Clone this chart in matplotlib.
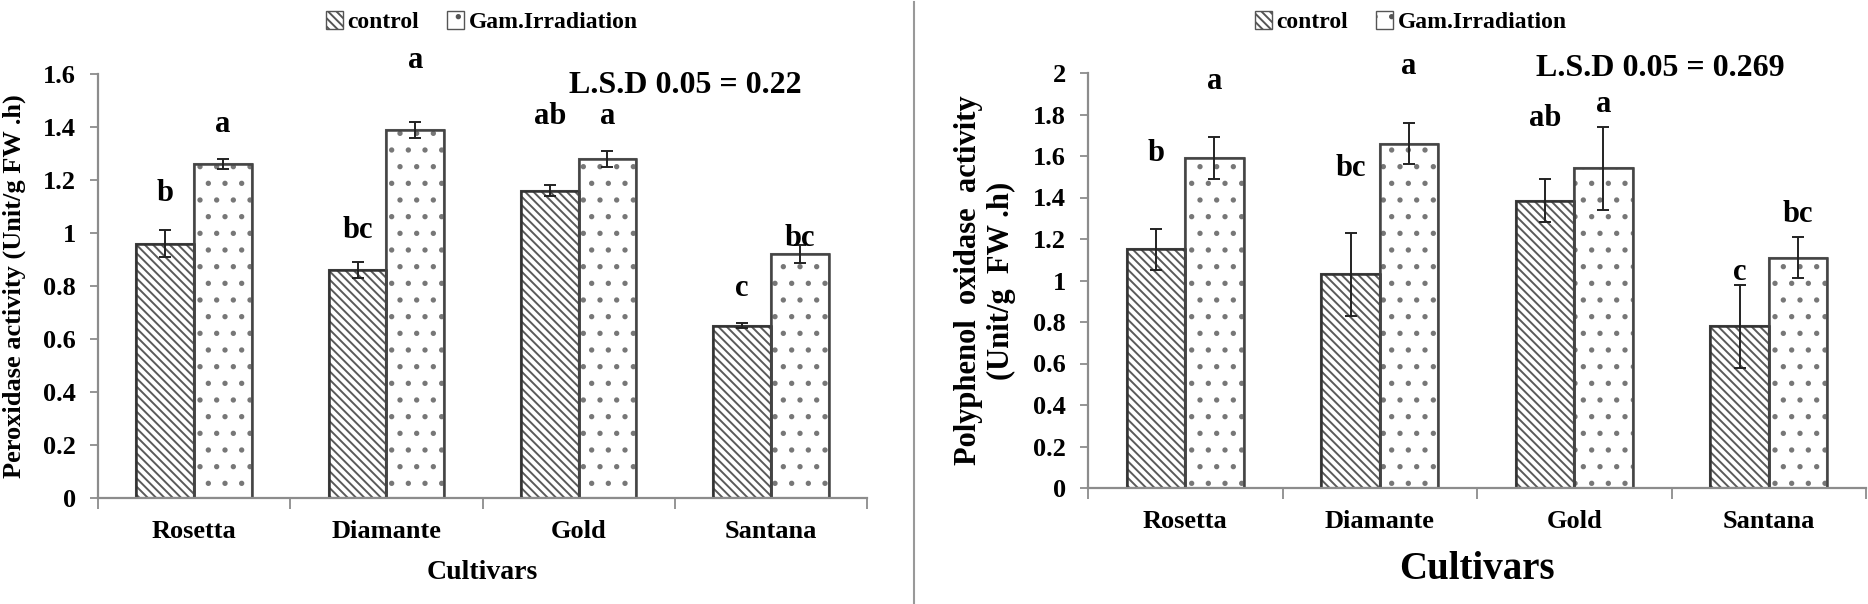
import matplotlib
matplotlib.use('Agg')
import matplotlib.pyplot as plt
from matplotlib.patches import Patch
from matplotlib.lines import Line2D
from matplotlib.ticker import FuncFormatter, FixedLocator

plt.rcParams['font.family'] = ['Liberation Serif', 'DejaVu Serif']
plt.rcParams['font.weight'] = 'bold'
plt.rcParams['hatch.linewidth'] = 1.4

# data
cultivars = ['Rosetta', 'Diamante', 'Gold', 'Santana']

pod_control = [0.96, 0.86, 1.16, 0.65]
pod_control_err = [0.05, 0.03, 0.02, 0.01]
pod_gam = [1.26, 1.39, 1.28, 0.92]
pod_gam_err = [0.02, 0.03, 0.03, 0.035]
pod_letters_control = ['b', 'bc', 'ab', 'c']
pod_letters_gam = ['a', 'a', 'a', 'bc']
pod_letter_y_control = [1.15, 1.01, 1.44, 0.79]
pod_letter_y_gam = [1.41, 1.65, 1.44, 0.98]
pod_lsd = 'L.S.D 0.05 = 0.22'

ppo_control = [1.15, 1.03, 1.385, 0.78]
ppo_control_err = [0.10, 0.20, 0.105, 0.20]
ppo_gam = [1.59, 1.66, 1.54, 1.11]
ppo_gam_err = [0.10, 0.10, 0.20, 0.10]
ppo_letters_control = ['b', 'bc', 'ab', 'c']
ppo_letters_gam = ['a', 'a', 'a', 'bc']
ppo_letter_y_control = [1.61, 1.54, 1.78, 1.04]
ppo_letter_y_gam = [1.96, 2.03, 1.85, 1.32]
ppo_lsd = 'L.S.D 0.05 = 0.269'

W, H = 1868, 604
fig = plt.figure(figsize=(W / 100, H / 100), dpi=100)

ax1 = fig.add_axes([98 / W, 1 - 498 / H, (867 - 98) / W, (498 - 74) / H])
ax2 = fig.add_axes([1088 / W, 1 - 488 / H, (1866 - 1088) / W, (488 - 73) / H])

bw = 0.3
x = list(range(len(cultivars)))
axis_grey = '#8c8c8c'


def draw(ax, ctrl, ctrl_err, gam, gam_err, let_c, let_g, ly_c, ly_g, ymax, lsd, lsd_x, lsd_y,
         ylabel, xlab_size, ylab_size, tick_size, xlab_pad):
    xc = [i - bw / 2 for i in x]
    xg = [i + bw / 2 for i in x]
    ax.bar(xc, ctrl, bw, color='white', edgecolor='#5a5a5a', hatch='\\\\\\\\', linewidth=1.5)
    ax.bar(xg, gam, bw, color='white', edgecolor='#777777', hatch='.', linewidth=1.5)
    # outline on top of hatch
    ax.bar(xc, ctrl, bw, color='none', edgecolor='#333333', linewidth=1.8)
    ax.bar(xg, gam, bw, color='none', edgecolor='#444444', linewidth=1.8)
    ax.errorbar(xc, ctrl, yerr=ctrl_err, fmt='none', ecolor='#222222', elinewidth=1.4, capsize=4, capthick=1.4)
    ax.errorbar(xg, gam, yerr=gam_err, fmt='none', ecolor='#222222', elinewidth=1.4, capsize=4, capthick=1.4)

    for i in x:
        ax.text(xc[i], ly_c[i], let_c[i], ha='center', va='center', fontsize=22, fontweight='bold', clip_on=False)
        ax.text(xg[i], ly_g[i], let_g[i], ha='center', va='center', fontsize=22, fontweight='bold', clip_on=False)

    ax.text(lsd_x, lsd_y, lsd, ha='center', va='center', fontsize=23, fontweight='bold', clip_on=False)

    ax.set_xlim(-0.5, len(cultivars) - 0.5)
    ax.set_ylim(0, ymax)
    ax.set_xticks(x)
    ax.set_xticklabels(cultivars, fontsize=tick_size + 1, fontweight='bold')
    ax.xaxis.set_minor_locator(FixedLocator([i - 0.5 for i in range(len(cultivars) + 1)]))
    ax.tick_params(axis='x', which='major', length=0, pad=16)
    ax.tick_params(axis='x', which='minor', length=8, width=1.3, color=axis_grey, direction='out')
    ax.tick_params(axis='y', length=6, width=1.3, color=axis_grey, direction='out', labelsize=tick_size + 1, pad=10)
    ax.yaxis.set_major_formatter(FuncFormatter(lambda v, p: '%g' % round(v, 2)))
    for lab in ax.get_yticklabels():
        lab.set_fontweight('bold')

    for s in ['top', 'right']:
        ax.spines[s].set_visible(False)
    for s in ['left', 'bottom']:
        ax.spines[s].set_color(axis_grey)
        ax.spines[s].set_linewidth(1.6)

    ax.set_xlabel('Cultivars', fontsize=xlab_size, fontweight='bold', labelpad=xlab_pad)
    ax.set_ylabel(ylabel, fontsize=ylab_size, fontweight='bold')


draw(ax1, pod_control, pod_control_err, pod_gam, pod_gam_err,
     pod_letters_control, pod_letters_gam, pod_letter_y_control, pod_letter_y_gam,
     1.6, pod_lsd, 2.557, 1.555, 'Peroxidase activity (Unit/g FW .h)', 20, 19, 18, 12)
ax1.set_yticks([0, 0.2, 0.4, 0.6, 0.8, 1.0, 1.2, 1.4, 1.6])

draw(ax2, ppo_control, ppo_control_err, ppo_gam, ppo_gam_err,
     ppo_letters_control, ppo_letters_gam, ppo_letter_y_control, ppo_letter_y_gam,
     2.0, ppo_lsd, 2.44, 2.02, 'Polyphenol  oxidase  activity\n(Unit/g  FW .h)', 28, 22, 18, 13)
ax2.set_yticks([0, 0.2, 0.4, 0.6, 0.8, 1.0, 1.2, 1.4, 1.6, 1.8, 2.0])
ax2.yaxis.set_label_coords(-0.092, 0.5)
ax1.yaxis.set_label_coords(-0.094, 0.5)

# legends
handles = [Patch(facecolor='white', edgecolor='#555555', hatch='\\\\\\\\', label='control'),
           Patch(facecolor='white', edgecolor='#555555', hatch='.', label='Gam.Irradiation')]
for cx in [482 / W, 1411 / W]:
    fig.legend(handles=handles, loc='center', bbox_to_anchor=(cx, 1 - 22 / H), ncol=2, frameon=False,
               prop={'family': 'Liberation Serif', 'weight': 'bold', 'size': 17},
               handlelength=0.7, handleheight=0.8, handletextpad=0.2, columnspacing=1.2)

# divider between panels
fig.add_artist(Line2D([914 / W, 914 / W], [0, 1 - 2 / H], color='#999999', linewidth=1.5))

fig.savefig('out.png', dpi=100)
